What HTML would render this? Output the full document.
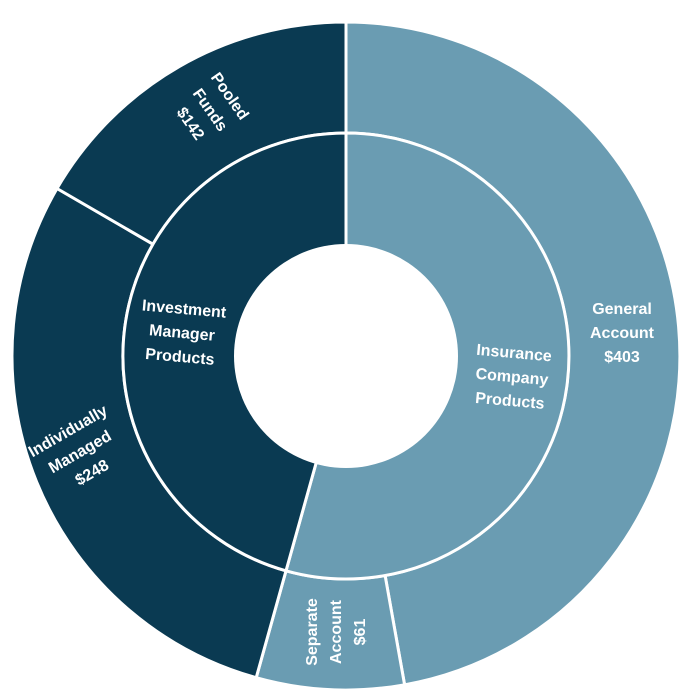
<!DOCTYPE html>
<html><head><style>
html,body{margin:0;padding:0;background:#fff;}
svg{display:block;}
text{font-family:"Liberation Sans",sans-serif;font-weight:bold;font-size:16px;fill:#fff;text-anchor:middle;}
</style></head><body>
<svg width="687" height="699" viewBox="0 0 687 699" xmlns="http://www.w3.org/2000/svg">
<g stroke="#fff" stroke-width="3" stroke-linejoin="round">
<path d="M346,22 A334,334 0 0 1 404.6,684.8 L385.1,575.5 A223,223 0 0 0 346,133 Z" fill="#6a9cb2"/>
<path d="M404.6,684.8 A334,334 0 0 1 256.2,677.7 L286,570.8 A223,223 0 0 0 385.1,575.5 Z" fill="#6a9cb2"/>
<path d="M256.2,677.7 A334,334 0 0 1 57,188.5 L153,244.2 A223,223 0 0 0 286,570.8 Z" fill="#0a3a52"/>
<path d="M57,188.5 A334,334 0 0 1 346,22 L346,133 A223,223 0 0 0 153,244.2 Z" fill="#0a3a52"/>
<path d="M346,356 L346,133 A223,223 0 1 1 286,570.8 Z" fill="#6a9cb2"/>
<path d="M346,356 L286,570.8 A223,223 0 0 1 346,133 Z" fill="#0a3a52"/>
</g>
<circle cx="346" cy="356" r="112" fill="#fff"/>
<text x="622" y="314">General</text>
<text x="622" y="338">Account</text>
<text x="622" y="362">$403</text>
<g transform="translate(336,632) rotate(-90)">
<text x="0" y="-19">Separate</text><text x="0" y="5">Account</text><text x="0" y="29">$61</text></g>
<g transform="translate(80,452) rotate(-30)">
<text x="0" y="-19">Individually</text><text x="0" y="5">Managed</text><text x="0" y="29">$248</text></g>
<g transform="translate(210,110) rotate(55)">
<text x="0" y="-19">Pooled</text><text x="0" y="5">Funds</text><text x="0" y="29">$142</text></g>
<g transform="translate(182,333) rotate(5)">
<text x="0" y="-19">Investment</text><text x="0" y="5">Manager</text><text x="0" y="29">Products</text></g>
<g transform="translate(512,377) rotate(5)">
<text x="0" y="-19">Insurance</text><text x="0" y="5">Company</text><text x="0" y="29">Products</text></g>
</svg>
</body></html>
